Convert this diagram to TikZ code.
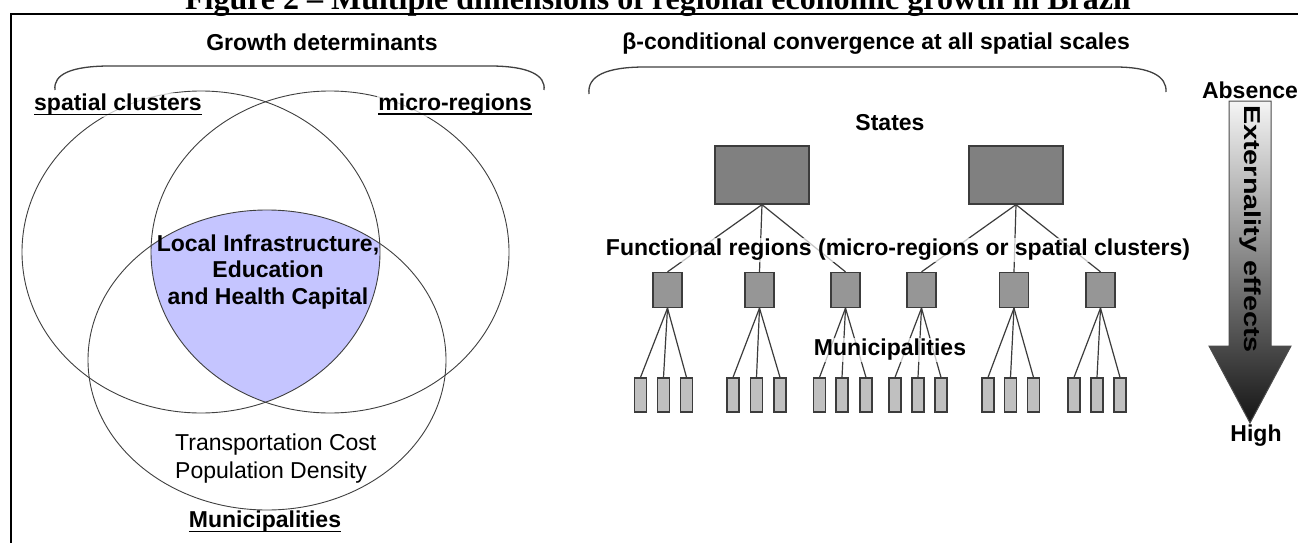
\documentclass[tikz,border=0pt]{standalone}
\usepackage{fontspec}
\setmainfont{Liberation Sans}
\newfontfamily\titlefont{Liberation Serif}
\newcommand{\myul}[1]{\setbox0=\hbox{#1}\hbox{\rlap{\vrule height -2.6pt depth 4.4pt width \wd0}\box0}}
\definecolor{purp}{RGB}{197,197,255}
\definecolor{lngray}{RGB}{60,60,60}
\definecolor{stfill}{RGB}{128,128,128}
\definecolor{frfill}{RGB}{150,150,150}
\definecolor{mufill}{RGB}{192,192,192}
\tikzset{
  lbl/.style={font=\fontsize{23}{27}\selectfont\bfseries, inner sep=1pt, fill=white, fill opacity=0.7, text opacity=1},
  venn/.style={draw=black!75, line width=0.9pt},
  bracket/.style={draw=black!75, line width=1.3pt},
  statebox/.style={draw=lngray, fill=stfill, line width=1.3pt, minimum width=94pt, minimum height=58pt, inner sep=0pt},
  frbox/.style={draw=lngray, fill=frfill, line width=1.3pt, minimum width=29pt, minimum height=35pt, inner sep=0pt},
  mubox/.style={draw=lngray, fill=mufill, line width=1.3pt, minimum width=12pt, minimum height=34pt, inner sep=0pt},
  link/.style={draw=lngray, line width=1.2pt},
}
\begin{document}
\begin{tikzpicture}[x=1pt,y=-1pt]
\useasboundingbox (0,0) rectangle (1298,543);
\clip (0,0) rectangle (1298,543);
\fill[white] (0,0) rectangle (1298,543);
% title (cut at top)
\node[anchor=base east, inner sep=0pt, font=\titlefont\bfseries\fontsize{32}{36}\selectfont] (title) at (1131,10) {Figure 2 – Multiple dimensions of regional economic growth in Brazil};
% frame
\draw[line width=2.6pt] (11,545) -- (11,14) -- (1300,14);
% Venn diagram
\begin{scope}
  \clip (201,252) ellipse [x radius=179pt, y radius=161pt];
  \clip (330,252) ellipse [x radius=179pt, y radius=161pt];
  \fill[purp] (267,360) ellipse [x radius=179pt, y radius=150pt];
\end{scope}
\draw[venn] (201,252) ellipse [x radius=179pt, y radius=161pt];
\draw[venn] (330,252) ellipse [x radius=179pt, y radius=161pt];
\draw[venn] (267,360) ellipse [x radius=179pt, y radius=150pt];
% left bracket and labels
\node[lbl, fill=none] (gd) at (322,42) {Growth determinants};
\draw[bracket] (55,90) .. controls (53,74) and (72,66) .. (110,66) -- (490,66) .. controls (528,66) and (546,75) .. (544,90);
\node[lbl, anchor=west] (sc) at (33,105) {\myul{spatial clusters}};
\node[lbl, anchor=east] (mr) at (533,105) {\myul{micro-regions}};
\node[font=\fontsize{23}{26.5}\selectfont\bfseries, align=center, inner sep=0pt] (core) at (268,272) {Local Infrastructure,\\Education\\and Health Capital};
\node[font=\fontsize{23}{28}\selectfont, align=left, anchor=west, inner sep=0pt] (tc) at (175,459) {Transportation Cost\\Population Density};
\node[lbl, fill=none] (munL) at (265,522) {\myul{Municipalities}};
% right bracket
\node[lbl, fill=none, anchor=east] (beta) at (1131,44) {β-conditional convergence at all spatial scales};
\draw[bracket] (589,94) .. controls (587,76) and (606,67) .. (645,67) -- (1115,67) .. controls (1150,67) and (1167,76) .. (1166,92);
\node[lbl, fill=none] (states) at (890,123) {States};
% hierarchy
\node[statebox] (s1) at (762,175) {};
\node[statebox] (s2) at (1016,175) {};
\foreach \x [count=\i] in {667.5,759.5,845.5,921.5,1014,1100.5}
  \node[frbox] (f\i) at (\x,290) {};
\foreach \x [count=\i] in {640.5,663.5,686.5,733,756.5,780,819.5,842,866,895,918,941,988,1010.5,1033.5,1074,1097,1120}
  \node[mubox] (m\i) at (\x,395) {};
\foreach \i in {1,2,3} \draw[link] (s1.south) -- (f\i.north);
\foreach \i in {4,5,6} \draw[link] (s2.south) -- (f\i.north);
\foreach \i in {1,...,18} {
  \pgfmathtruncatemacro\p{(\i+2)/3}
  \draw[link] (f\p.south) -- (m\i.north);
}
\node[lbl] (fr) at (898,250) {Functional regions (micro-regions or spatial clusters)};
\node[lbl] (munR) at (890,350) {Municipalities};
% externality arrow
\path[draw=black!70, line width=1pt, top color=black!4, bottom color=black!92]
  (1229,101) -- (1271,101) -- (1271,346) -- (1291,346) -- (1250,423) -- (1209,346) -- (1229,346) -- cycle;
\node[font=\fontsize{23}{27}\selectfont\bfseries, rotate=-90, inner sep=0pt] (ext) at (1250,229) {\scalebox{1.25}[1]{Externality effects}};
\node[lbl, fill=none] (abs) at (1250,90) {Absence};
\node[lbl, fill=none] (high) at (1256,436) {High};
\end{tikzpicture}
\end{document}
